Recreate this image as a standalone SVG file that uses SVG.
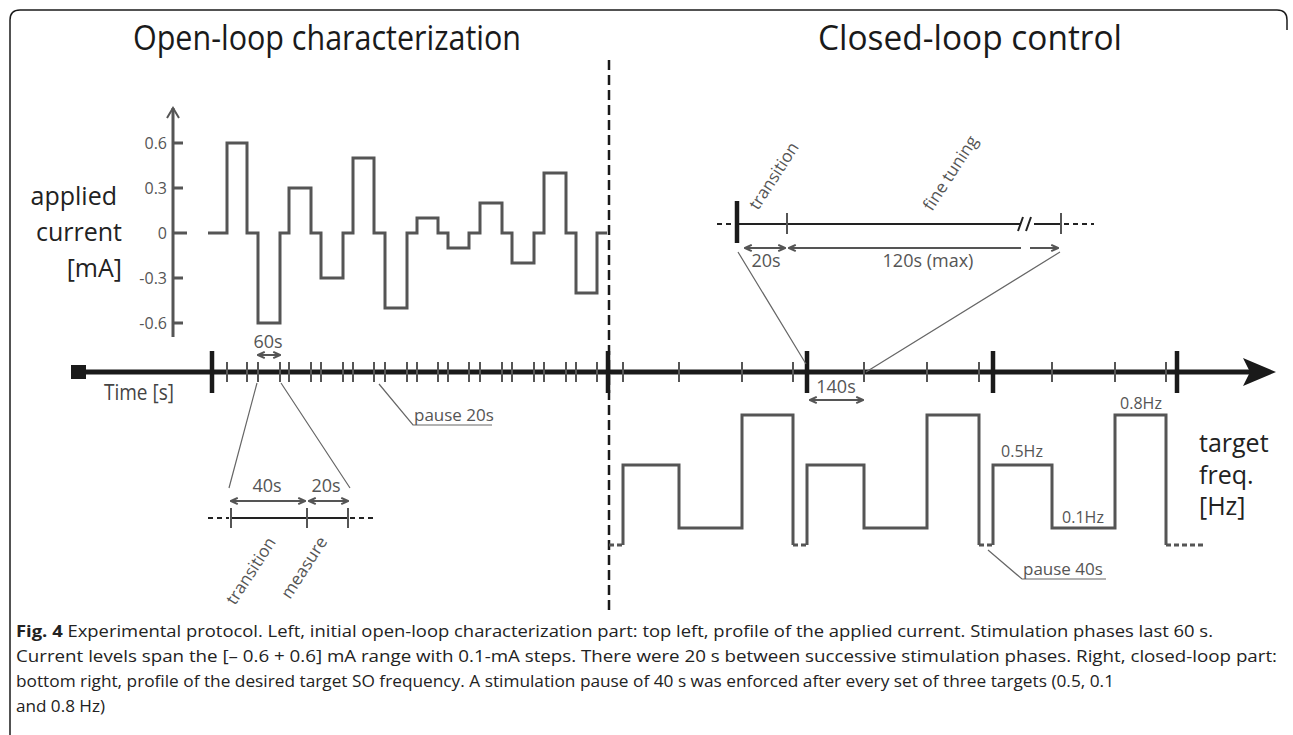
<svg xmlns="http://www.w3.org/2000/svg" width="1293" height="735" viewBox="0 0 1293 735">
  <defs>
    <marker id="head" viewBox="0 0 10 10" refX="9" refY="5" markerWidth="9" markerHeight="9" markerUnits="userSpaceOnUse" orient="auto-start-reverse">
      <path d="M1.5,1.5 L9,5 L1.5,8.5" fill="none" stroke="#555" stroke-width="2.2"/>
    </marker>
  </defs>
  <style>
    text { font-family: "Open Sans", "Noto Sans", "DejaVu Sans", sans-serif; }
    .title { font-size: 35px; fill: #1a1a1a; }
    .big { font-size: 25px; fill: #222; }
    .tick { font-size: 16px; fill: #555; }
    .lbl { font-size: 17px; fill: #555; }
    .dimt { font-size: 18px; fill: #555; text-anchor: middle; }
    .wave { fill: none; stroke: #555; stroke-width: 3; }
    .axis { stroke: #1a1a1a; stroke-width: 5; fill: none; }
    .major { stroke: #1a1a1a; stroke-width: 4.5; fill: none; }
    .minor { stroke: #555; stroke-width: 2; fill: none; }
    .thin { stroke: #666; stroke-width: 1.2; fill: none; }
    .dim { stroke: #555; stroke-width: 2; fill: none; }
    .mini { stroke: #222; stroke-width: 2; fill: none; }
    .mdash { stroke: #222; stroke-width: 2; stroke-dasharray: 5 4; fill: none; }
    .cap { font-size: 16px; fill: #222; }
  </style>

  <!-- figure frame -->
  <path id="frame" d="M10,735 V20 Q10,10 20,10 H1277 Q1287,10 1287,20 V30" fill="none" stroke="#1a1a1a" stroke-width="1.5"/>

  <!-- section titles -->
  <g id="titles">
    <text class="title" x="133" y="50" textLength="388" lengthAdjust="spacingAndGlyphs">Open-loop characterization</text>
    <text class="title" x="818" y="50" textLength="304" lengthAdjust="spacingAndGlyphs">Closed-loop control</text>
  </g>

  <!-- separator between the two phases -->
  <path id="separator" d="M609,60 V615" stroke="#1a1a1a" stroke-width="2.5" stroke-dasharray="10 5" fill="none"/>

  <!-- applied current profile -->
  <g id="current-plot">
    <path d="M173,337 V108" stroke="#555" stroke-width="3" fill="none"/>
    <path d="M167,118 L173,108 L179,118" stroke="#555" stroke-width="2" fill="none"/>
    <path d="M173,143 H183 M173,188 H183 M173,233 H187 M173,278 H183 M173,323 H183" stroke="#555" stroke-width="3" fill="none"/>
    <text class="tick" x="167" y="149" text-anchor="end">0.6</text>
    <text class="tick" x="167" y="194" text-anchor="end">0.3</text>
    <text class="tick" x="167" y="239" text-anchor="end">0</text>
    <text class="tick" x="167" y="284" text-anchor="end">-0.3</text>
    <text class="tick" x="167" y="329" text-anchor="end">-0.6</text>
    <text class="big" x="117" y="205" text-anchor="end">applied</text>
    <text class="big" x="122" y="241" text-anchor="end">current</text>
    <text class="big" x="122" y="277" text-anchor="end">[mA]</text>
    <path class="wave" d="M208,233 H227 V143 H247 V233 H258 V323 H280 V233 H289 V188 H311 V233 H321 V278 H343 V233 H353 V158 H374 V233 H385 V308 H407 V233 H417 V218 H438 V233 H448 V248 H469 V233 H480 V203 H502 V233 H512 V263 H534 V233 H544 V173 H566 V233 H576 V293 H597 V233 H607"/>
  </g>

  <!-- shared time axis -->
  <g id="time-axis">
    <rect x="71" y="365" width="15" height="14" fill="#1a1a1a"/>
    <path class="axis" d="M86,372 H1250"/>
    <path d="M1276,372 L1243,358 L1250,372 L1243,386 Z" fill="#1a1a1a"/>
    <path class="major" d="M212,351 V393 M608,351 V393 M807,351 V393 M993,351 V393 M1177,351 V393"/>
    <path class="minor" d="M227,362 V382 M247,362 V382 M258,362 V382 M280,362 V382 M289,362 V382 M311,362 V382 M321,362 V382 M343,362 V382 M353,362 V382 M374,362 V382 M385,362 V382 M407,362 V382 M417,362 V382 M438,362 V382 M448,362 V382 M469,362 V382 M480,362 V382 M502,362 V382 M512,362 V382 M534,362 V382 M544,362 V382 M566,362 V382 M576,362 V382 M597,362 V382"/>
    <path class="minor" d="M623,362 V382 M679,362 V382 M742,362 V382 M793,362 V382 M864,362 V382 M927,362 V382 M979,362 V382 M1052,362 V382 M1115,362 V382 M1166,362 V382"/>
    <text x="104" y="400" font-size="21" fill="#444" textLength="70" lengthAdjust="spacingAndGlyphs">Time [s]</text>
    <text class="dimt" x="268" y="348">60s</text>
    <path class="dim" d="M258,355 H280" marker-start="url(#head)" marker-end="url(#head)"/>
    <text class="dimt" x="836" y="393">140s</text>
    <path class="dim" d="M810,400 H863" marker-start="url(#head)" marker-end="url(#head)"/>
    <path class="thin" d="M379,384 L413,425 H492"/>
    <text class="lbl" x="414" y="421">pause 20s</text>
  </g>

  <!-- one open-loop stimulation phase in detail -->
  <g id="phase-detail">
    <path class="thin" d="M257,383 L229,488 M281,383 L350,488"/>
    <path class="mdash" d="M208,518 H229 M350,518 H373"/>
    <path class="mini" d="M231,518 H348"/>
    <path class="minor" stroke-width="1.5" d="M231,508 V528 M307,508 V528 M348,508 V528"/>
    <path class="dim" d="M231,501 H305" marker-start="url(#head)" marker-end="url(#head)"/>
    <path class="dim" d="M309,501 H348" marker-start="url(#head)" marker-end="url(#head)"/>
    <text class="dimt" x="267" y="492">40s</text>
    <text class="dimt" x="326" y="492">20s</text>
    <text class="lbl" transform="translate(235,606) rotate(-57)">transition</text>
    <text class="lbl" transform="translate(290,600) rotate(-57)">measure</text>
  </g>

  <!-- one closed-loop target period in detail -->
  <g id="target-detail">
    <path class="thin" d="M738,252 L806,364 M1060,252 L866,372"/>
    <path class="mdash" d="M717,224 H736 M1064,224 H1094"/>
    <path class="mini" d="M737,224 H1021 M1034,224 H1061"/>
    <path d="M1018,231 L1023,217 M1026,231 L1031,217" stroke="#222" stroke-width="2" fill="none"/>
    <path d="M737,201 V243" stroke="#1a1a1a" stroke-width="4.5"/>
    <path class="minor" stroke-width="1.5" d="M787,213 V234 M1061,213 V234"/>
    <path class="dim" d="M745,248 H785" marker-start="url(#head)" marker-end="url(#head)"/>
    <path class="dim" d="M789,248 H1021" marker-start="url(#head)"/>
    <path class="dim" d="M1030,248 H1058" marker-end="url(#head)"/>
    <text class="dimt" x="766" y="267">20s</text>
    <text class="dimt" x="928" y="267">120s (max)</text>
    <text class="lbl" transform="translate(758,211) rotate(-57)">transition</text>
    <text class="lbl" transform="translate(932,212) rotate(-57)">fine tuning</text>
  </g>

  <!-- target frequency profile -->
  <g id="target-plot">
    <path class="wave" d="M623,545 V465 H679 V528 H742 V415 H793 V545 M807,545 V465 H864 V528 H927 V415 H979 V545 M993,545 V465 H1052 V528 H1115 V415 H1166 V545"/>
    <path class="wave" stroke-dasharray="5 3" d="M609,545 H623 M793,545 H807 M979,545 H993 M1166,545 H1204"/>
    <text class="tick" x="1022" y="457" text-anchor="middle">0.5Hz</text>
    <text class="tick" x="1083" y="523" text-anchor="middle">0.1Hz</text>
    <text class="tick" x="1141" y="409" text-anchor="middle">0.8Hz</text>
    <path class="thin" d="M988,550 L1022,579 H1106"/>
    <text class="lbl" x="1023" y="575">pause 40s</text>
    <text class="big" x="1199" y="452">target</text>
    <text class="big" x="1199" y="484">freq.</text>
    <text class="big" x="1199" y="515">[Hz]</text>
  </g>

  <!-- caption -->
  <g id="caption" class="cap">
    <text x="16" y="637" textLength="1197" lengthAdjust="spacingAndGlyphs"><tspan font-weight="bold">Fig. 4</tspan> Experimental protocol. Left, initial open-loop characterization part: top left, profile of the applied current. Stimulation phases last 60 s.</text>
    <text x="16" y="662" textLength="1261" lengthAdjust="spacingAndGlyphs">Current levels span the [– 0.6 + 0.6] mA range with 0.1-mA steps. There were 20 s between successive stimulation phases. Right, closed-loop part:</text>
    <text x="16" y="687" textLength="1098" lengthAdjust="spacingAndGlyphs">bottom right, profile of the desired target SO frequency. A stimulation pause of 40 s was enforced after every set of three targets (0.5, 0.1</text>
    <text x="16" y="712" textLength="89" lengthAdjust="spacingAndGlyphs">and 0.8 Hz)</text>
  </g>
</svg>
